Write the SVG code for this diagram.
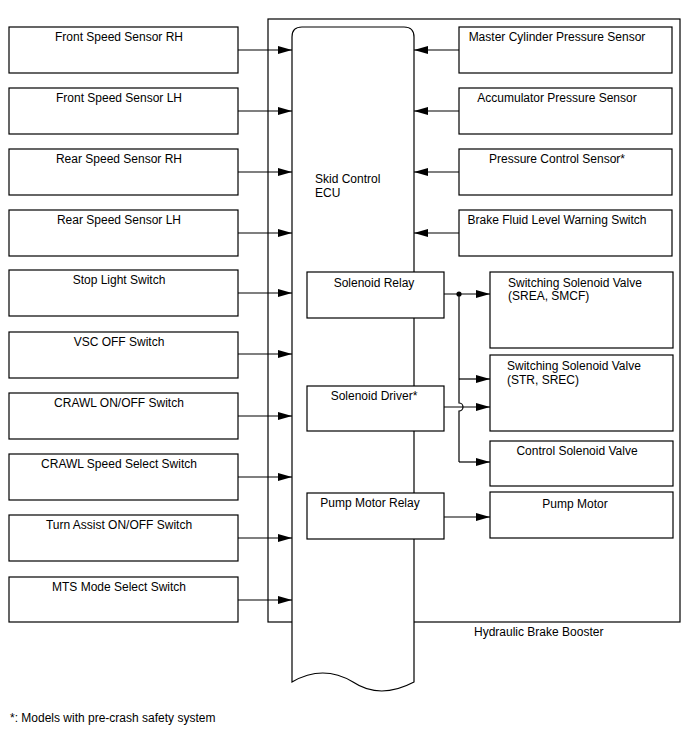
<svg xmlns="http://www.w3.org/2000/svg" width="688" height="755" viewBox="0 0 688 755">
<defs>
<marker id="ah" viewBox="0 0 14 8" refX="14" refY="4" markerWidth="14" markerHeight="8" markerUnits="userSpaceOnUse" orient="auto">
<path d="M0,0 L14,4 L0,8 Z" fill="#000"/>
</marker>
<style>
.box{fill:#fff;stroke:#000;stroke-width:1.2}
.ln{fill:none;stroke:#000;stroke-width:1.2}
.ar{fill:none;stroke:#000;stroke-width:1.2;marker-end:url(#ah)}
text{font-family:"Liberation Sans",Arial,sans-serif;font-size:12px;fill:#000}
.c{text-anchor:middle}
</style>
</defs>
<rect width="688" height="755" fill="#fff"/>
<g id="hydraulic-brake-booster">
<rect class="ln" x="268" y="19" width="412" height="603"/>
<text x="474" y="636">Hydraulic Brake Booster</text>
</g>
<g id="ecu">
<path class="box" d="M292,682 L292,37 Q292,27 302,27 L404,27 Q414,27 414,37 L414,682 Q380,700 353,682 Q323,664 292,682 Z"/>
<text x="315" y="183">Skid Control</text>
<text x="315" y="197">ECU</text>
</g>
<g id="left-inputs">
<g id="front-rh"><rect class="box" x="9" y="27" width="229" height="46"/><text class="c" x="119" y="41">Front Speed Sensor RH</text></g>
<g id="front-lh"><rect class="box" x="9" y="88" width="229" height="46"/><text class="c" x="119" y="102">Front Speed Sensor LH</text></g>
<g id="rear-rh"><rect class="box" x="9" y="149" width="229" height="46"/><text class="c" x="119" y="163">Rear Speed Sensor RH</text></g>
<g id="rear-lh"><rect class="box" x="9" y="210" width="229" height="46"/><text class="c" x="119" y="224">Rear Speed Sensor LH</text></g>
<g id="stop-light"><rect class="box" x="9" y="270" width="229" height="46"/><text class="c" x="119" y="284">Stop Light Switch</text></g>
<g id="vsc-off"><rect class="box" x="9" y="332" width="229" height="46"/><text class="c" x="119" y="346">VSC OFF Switch</text></g>
<g id="crawl-onoff"><rect class="box" x="9" y="393" width="229" height="46"/><text class="c" x="119" y="407">CRAWL ON/OFF Switch</text></g>
<g id="crawl-speed"><rect class="box" x="9" y="454" width="229" height="46"/><text class="c" x="119" y="468">CRAWL Speed Select Switch</text></g>
<g id="turn-assist"><rect class="box" x="9" y="515" width="229" height="46"/><text class="c" x="119" y="529">Turn Assist ON/OFF Switch</text></g>
<g id="mts-mode"><rect class="box" x="9" y="577" width="229" height="45"/><text class="c" x="119" y="591">MTS Mode Select Switch</text></g>
</g>
<g id="right-inputs">
<g id="master-cyl"><rect class="box" x="459" y="27" width="213" height="46"/><text class="c" x="557" y="41">Master Cylinder Pressure Sensor</text></g>
<g id="accumulator"><rect class="box" x="459" y="88" width="213" height="46"/><text class="c" x="557" y="102">Accumulator Pressure Sensor</text></g>
<g id="pressure-control"><rect class="box" x="459" y="149" width="213" height="46"/><text class="c" x="557" y="163">Pressure Control Sensor*</text></g>
<g id="brake-fluid"><rect class="box" x="459" y="210" width="213" height="46"/><text class="c" x="557" y="224">Brake Fluid Level Warning Switch</text></g>
</g>
<g id="inner-blocks">
<g id="solenoid-relay"><rect class="box" x="307" y="272" width="137" height="46"/><text class="c" x="374" y="287">Solenoid Relay</text></g>
<g id="solenoid-driver"><rect class="box" x="307" y="386" width="137" height="45"/><text class="c" x="374" y="400">Solenoid Driver*</text></g>
<g id="pump-relay"><rect class="box" x="307" y="493" width="137" height="46"/><text class="c" x="370" y="507">Pump Motor Relay</text></g>
</g>
<g id="outputs">
<g id="ssv-srea"><rect class="box" x="490" y="272" width="183" height="76"/><text x="508" y="287">Switching Solenoid Valve</text><text x="508" y="300">(SREA, SMCF)</text></g>
<g id="ssv-str"><rect class="box" x="490" y="355" width="183" height="76"/><text x="507" y="370">Switching Solenoid Valve</text><text x="507" y="384">(STR, SREC)</text></g>
<g id="control-sv"><rect class="box" x="490" y="441" width="183" height="45"/><text class="c" x="577" y="455">Control Solenoid Valve</text></g>
<g id="pump-motor"><rect class="box" x="490" y="492" width="183" height="46"/><text class="c" x="575" y="508">Pump Motor</text></g>
</g>
<g id="connectors">
<path class="ar" d="M238,50 H292"/>
<path class="ar" d="M238,111 H292"/>
<path class="ar" d="M238,172 H292"/>
<path class="ar" d="M238,233 H292"/>
<path class="ar" d="M238,293 H292"/>
<path class="ar" d="M238,354 H292"/>
<path class="ar" d="M238,416 H292"/>
<path class="ar" d="M238,477 H292"/>
<path class="ar" d="M238,538 H292"/>
<path class="ar" d="M238,600 H292"/>
<path class="ar" d="M459,50 H414"/>
<path class="ar" d="M459,111 H414"/>
<path class="ar" d="M459,172 H414"/>
<path class="ar" d="M459,233 H414"/>
<path class="ar" d="M444,294 H490"/>
<path class="ln" d="M459,294 V403 A4,4 0 0 1 459,411 V462"/>
<path class="ar" d="M459,379 H490"/>
<path class="ar" d="M444,407 H490"/>
<path class="ar" d="M459,462 H490"/>
<path class="ar" d="M444,517 H490"/>
<circle cx="459" cy="294" r="2.6" fill="#000"/>
</g>
<text x="10" y="722">*: Models with pre-crash safety system</text>
</svg>
